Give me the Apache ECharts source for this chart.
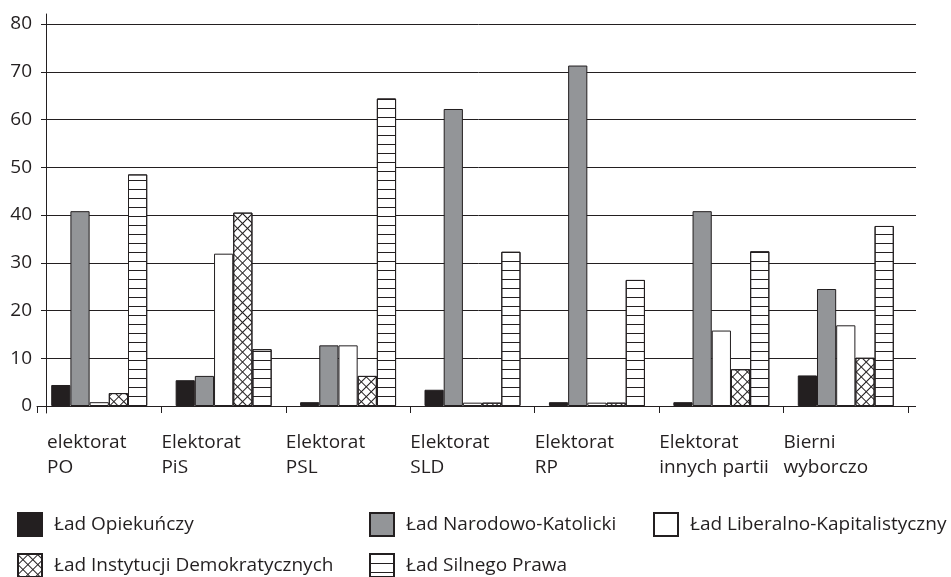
<!DOCTYPE html>
<html>
<head>
<meta charset="utf-8">
<script src="https://cdn.jsdelivr.net/npm/echarts@6/dist/echarts.min.js"></script>
<style>
  html, body { margin: 0; padding: 0; background: #fff; }
  #chart { width: 951px; height: 577px; }
</style>
</head>
<body>
<div id="chart"></div>
<script>
// kategorie (elektoraty)
const categories = [
  "elektorat\nPO",
  "Elektorat\nPiS",
  "Elektorat\nPSL",
  "Elektorat\nSLD",
  "Elektorat\nRP",
  "Elektorat\ninnych partii",
  "Bierni\nwyborczo"
];
const yTicks = [0, 10, 20, 30, 40, 50, 60, 70, 80];

// wartości
const ladOpiekunczy = [4.4, 5.4, 0.8, 3.4, 0.8, 0.8, 6.4];
const ladNarodowoKatolicki = [40.8, 6.3, 12.7, 62.2, 71.3, 40.8, 24.5];
const ladLiberalnoKapitalistyczny = [0.8, 31.9, 12.7, 0.7, 0.7, 15.8, 16.9];
const ladInstytucjiDemokratycznych = [2.7, 40.5, 6.3, 0.7, 0.7, 7.7, 10.1];
const ladSilnegoPrawa = [48.5, 11.9, 64.4, 32.3, 26.4, 32.4, 37.7];

const seriesNames = [
  "Ład Opiekuńczy",
  "Ład Narodowo-Katolicki",
  "Ład Liberalno-Kapitalistyczny",
  "Ład Instytucji Demokratycznych",
  "Ład Silnego Prawa"
];

const ink = "#231f20";
const font = "Open Sans";

const chart = echarts.init(document.getElementById("chart"));

// wzory: kratka ukośna i poziome paski
const crossDecal = {
  symbol: "rect",
  symbolSize: 1,
  color: ink,
  dashArrayX: [[7, 0], [1, 6]],
  dashArrayY: [1, 0, 6, 0],
  rotation: Math.PI / 4
};
const stripeDecal = {
  symbol: "rect",
  symbolSize: 1,
  color: ink,
  dashArrayX: [[9, 0]],
  dashArrayY: [1, 8],
  rotation: 0
};

function barSeries(name, data, fill, decal) {
  return {
    name: name,
    type: "bar",
    xAxisIndex: 0,
    yAxisIndex: 0,
    data: data,
    barWidth: 19.2,
    barGap: "0%",
    itemStyle: {
      color: fill,
      borderColor: ink,
      borderWidth: 1,
      decal: decal
    },
    emphasis: { disabled: true },
    animation: false
  };
}

const legendText = {
  fontFamily: font, fontSize: 19, lineHeight: 23, color: ink, padding: [0, 0, 0, 7]
};
const legendBase = {
  orient: "vertical",
  top: 512,
  height: 120,
  padding: 0,
  itemWidth: 24,
  itemHeight: 23,
  itemGap: 16,
  selectedMode: false,
  icon: "rect",
  textStyle: legendText
};

const option = {
  animation: false,
  grid: [
    { left: 37, right: 43, top: 24, bottom: 171 },   // słupki
    { left: 41, right: 35, top: 24, bottom: 171 },   // linie siatki + etykiety osi Y
    { left: 46, right: 43, top: 14, bottom: 164 }    // linia osi Y
  ],
  xAxis: [
    {
      type: "category",
      gridIndex: 0,
      data: categories,
      axisLine: { lineStyle: { color: ink, width: 1 } },
      axisTick: { show: true, length: 7, lineStyle: { color: ink } },
      axisLabel: { show: false }
    },
    {
      type: "category",
      gridIndex: 0,
      position: "bottom",
      boundaryGap: false,
      data: categories.concat([""]),
      axisLine: { show: false },
      axisTick: { show: false },
      axisLabel: {
        interval: 0,
        align: "left",
        verticalAlign: "top",
        margin: 24,
        fontFamily: font,
        fontSize: 19,
        lineHeight: 25,
        color: ink,
        formatter: (v, i) => i === 0
          ? v.split("\n").map(s => "{f|" + s + "}").join("\n")
          : v,
        rich: {
          f: { fontFamily: font, fontSize: 19, lineHeight: 25, color: ink, padding: [0, 0, 0, 10] }
        }
      }
    },
    { type: "category", gridIndex: 1, show: false, data: categories },
    { type: "category", gridIndex: 2, show: false, data: categories }
  ],
  yAxis: [
    { type: "value", gridIndex: 0, min: 0, max: 80, show: false },
    {
      type: "value",
      gridIndex: 1,
      min: 0,
      max: 80,
      interval: 10,
      axisLine: { show: false },
      axisTick: { show: false },
      splitLine: { show: true, lineStyle: { color: ink, width: 1 } },
      axisLabel: {
        margin: 9,
        fontFamily: font,
        fontSize: 19,
        color: ink,
        formatter: v => (yTicks.indexOf(v) >= 0 ? String(v) : "")
      }
    },
    {
      type: "value",
      gridIndex: 2,
      min: -1.466,
      max: 82.094,
      axisLine: { show: true, lineStyle: { color: ink, width: 1 } },
      axisTick: { show: false },
      axisLabel: { show: false },
      splitLine: { show: false }
    }
  ],
  legend: [
    Object.assign({}, legendBase, { left: 17, data: [seriesNames[0], seriesNames[3]] }),
    Object.assign({}, legendBase, { left: 369, data: [seriesNames[1], seriesNames[4]] }),
    Object.assign({}, legendBase, { left: 653, data: [seriesNames[2]] })
  ],
  series: [
    barSeries(seriesNames[0], ladOpiekunczy, ink),
    barSeries(seriesNames[1], ladNarodowoKatolicki, "#939598"),
    barSeries(seriesNames[2], ladLiberalnoKapitalistyczny, "#ffffff"),
    barSeries(seriesNames[3], ladInstytucjiDemokratycznych, "#ffffff", crossDecal),
    barSeries(seriesNames[4], ladSilnegoPrawa, "#ffffff", stripeDecal)
  ]
};

chart.setOption(option);
</script>
</body>
</html>
